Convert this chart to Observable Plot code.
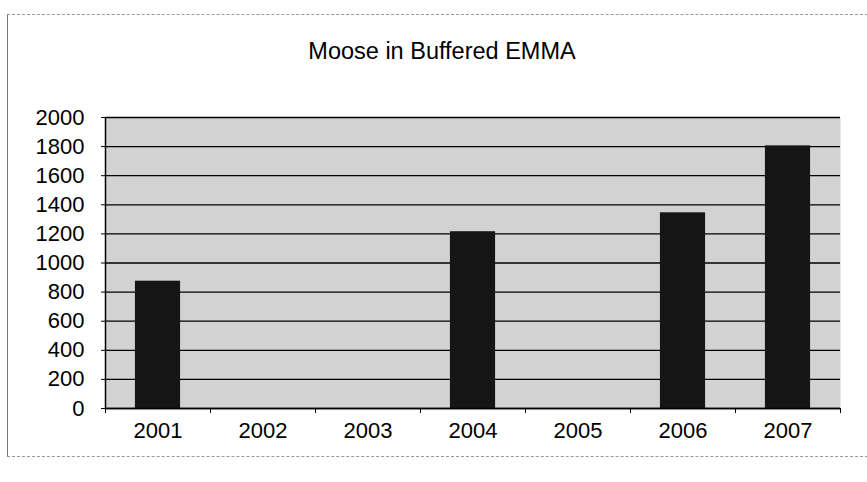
<!DOCTYPE html>
<html>
<head>
<meta charset="utf-8">
<script src="https://cdn.jsdelivr.net/npm/d3@7"></script>
<script src="https://cdn.jsdelivr.net/npm/@observablehq/plot@0.6"></script>
<style>
  html, body { margin: 0; padding: 0; background: #fff; }
  #wrap { position: relative; width: 867px; height: 482px; overflow: hidden; }
  #border { position: absolute; left: 7px; top: 14px; width: 880px; height: 441px;
            border-left: 1px solid #777; border-top: 1px dashed #999; border-bottom: 1px dashed #999; }
  #title { position: absolute; left: 0; width: 884px; top: 38px; text-align: center;
           font-family: "Liberation Sans", Arial, sans-serif; font-size: 23.5px; color: #000; }
  svg { position: absolute; left: 0; top: 0; }
</style>
</head>
<body>
<div id="wrap">
  <div id="border"></div>
  <div id="title">Moose in Buffered EMMA</div>
</div>
<script>
const years = [2001, 2002, 2003, 2004, 2005, 2006, 2007];
const moose = [875, null, null, 1215, null, 1345, 1805];
const yTicks = [0, 200, 400, 600, 800, 1000, 1200, 1400, 1600, 1800, 2000];
const bandEdges = [2000.5, 2001.5, 2002.5, 2003.5, 2004.5, 2005.5, 2006.5, 2007.5];

const data = years.map((y, i) => ({year: y, value: moose[i]})).filter(d => d.value != null);
const halfBar = 0.215;

const chart = Plot.plot({
  width: 867,
  height: 482,
  marginLeft: 105,
  marginRight: 27,
  marginTop: 117,
  marginBottom: 74,
  style: {fontFamily: "'Liberation Sans', Arial, sans-serif", fontSize: "22px", color: "#000", background: "transparent"},
  x: {domain: [2000.5, 2007.5]},
  y: {domain: [0, 2000]},
  marks: [
    Plot.frame({fill: "#d2d2d2", stroke: null}),
    Plot.ruleY(yTicks, {stroke: "#000", strokeWidth: 1.3}),
    Plot.rectY(data, {x1: d => d.year - halfBar, x2: d => d.year + halfBar, y: "value", fill: "#151515"}),
    Plot.ruleX([2000.5], {stroke: "#000", strokeWidth: 1.5}),
    Plot.ruleY([0], {stroke: "#000", strokeWidth: 1.5}),
    Plot.axisY({ticks: yTicks, tickSize: 4, tickPadding: 17, tickFormat: d => String(d), label: null, fontSize: 22}),
    Plot.axisX({ticks: bandEdges, tickSize: 5, tickFormat: () => "", label: null}),
    Plot.axisX({ticks: years, tickSize: 0, tickPadding: 14, tickFormat: d => String(d), label: null, fontSize: 22})
  ]
});
document.getElementById("wrap").appendChild(chart);
</script>
</body>
</html>
